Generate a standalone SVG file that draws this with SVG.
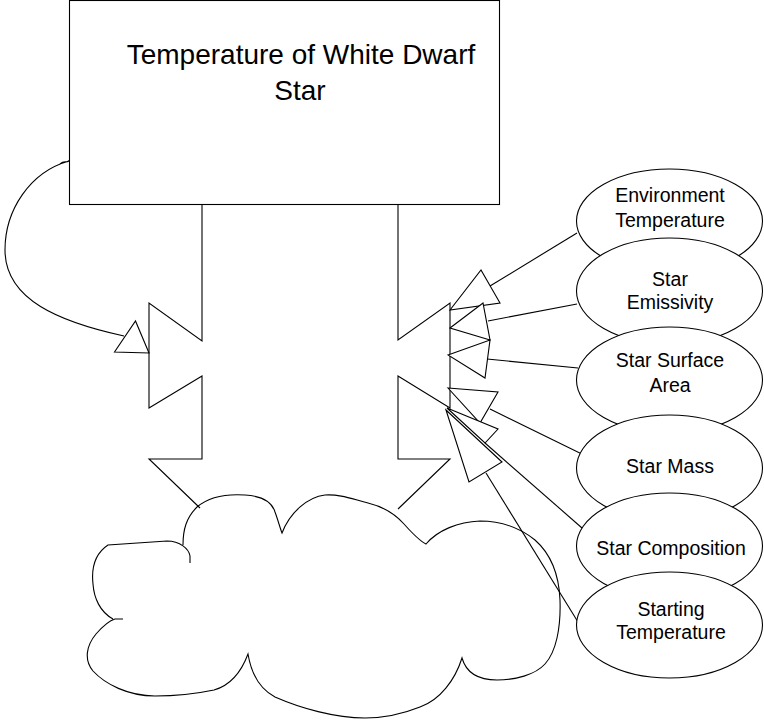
<svg xmlns="http://www.w3.org/2000/svg" width="764" height="720" viewBox="0 0 764 720">
<style>
.ln{fill:none;stroke:#000;stroke-width:1.1;stroke-linejoin:miter}
.ah{fill:#fff;stroke:#000;stroke-width:1.1}
.nd{fill:#fff;stroke:#000;stroke-width:1.1}
.t{font-family:"Liberation Sans",Arial,sans-serif;font-size:19.5px;fill:#000;text-anchor:middle}
.tt{font-family:"Liberation Sans",Arial,sans-serif;font-size:28px;fill:#000;text-anchor:middle}
</style>
<rect width="764" height="720" fill="#fff"/>
<g id="stock">
<rect class="nd" x="69.5" y="0.5" width="430" height="204"/>
<text class="tt" x="301" y="64">Temperature of White Dwarf</text>
<text class="tt" x="300" y="100">Star</text>
</g>
<g id="cloud">
<path class="ln" d="M183,545 C183,530 186,518 197,507 C210,496 230,494 245,495 C262,496 272,502 275,512 C278,520 280,528 282,533 C290,512 308,497 325,495 C340,494 352,499 368,503 C385,507 395,514 404,524 C412,533 420,541 426,544 C438,530 458,522 480,521 C502,521 520,528 535,540 C552,555 559,575 560,600 C561,628 556,652 545,664 C535,675 515,680 497,680 C478,680 466,672 462,658 C455,680 440,700 420,707 C400,715 385,718 365,718 C335,718 300,708 275,697 C258,688 251,672 248,654 C242,670 232,685 214,690 C195,694 175,696 155,696 C128,696 105,684 93,671 C84,660 86,646 96,634 C103,626 108,621 115,619 L123,619 M113,619 C100,612 94,598 93,584 C91,566 96,553 108,545 L167,541 C180,541 189,549 190,556 L190,563"/>
</g>
<g id="connectors">
<path class="ln" d="M202,205 L202,341 L149,303 L149,408 L202,376 L202,459 L149,459 L200,508"/>
<path class="ln" d="M398,205 L398,340 L450,303 L450,408 L398,376 L398,459 L450,459 L398,509"/>
<path class="ln" d="M60,164 C64,160 66,163 69,161 C30,172 5,210 5,250 C5,300 60,322 124,336"/>
<polygon class="ah" points="114.5,352 135.5,321 149,353"/>
<path class="ln" d="M490,286 L577,233"/>
<path class="ln" d="M488,321 L577,304"/>
<path class="ln" d="M487,359 L578,368"/>
<path class="ln" d="M490,409 L590,458 L588,463"/>
<path class="ln" d="M485,443 L582,528"/>
<path class="ln" d="M486,473 L578,622"/>
<polygon class="ah" points="450,310 481,270 500,303"/>
<polygon class="ah" points="450,328 483,303 490,340"/>
<polygon class="ah" points="448,355 490,340 485,378"/>
<polygon class="ah" points="448,388 498,392 480,423"/>
<polygon class="ah" points="447,408 498,429 485,443"/>
<polygon class="ah" points="446,410 502,462 469,482"/>
</g>
<g id="env-temp">
<ellipse class="nd" cx="669.5" cy="221" rx="93" ry="52"/>
<text class="t" x="670" y="202">Environment</text>
<text class="t" x="670" y="227">Temperature</text>
</g>
<g id="emissivity">
<ellipse class="nd" cx="669.5" cy="291" rx="93" ry="53"/>
<text class="t" x="670" y="286">Star</text>
<text class="t" x="670" y="309">Emissivity</text>
</g>
<g id="surface-area">
<ellipse class="nd" cx="669.5" cy="380" rx="93" ry="53"/>
<text class="t" x="670" y="367">Star Surface</text>
<text class="t" x="670" y="392">Area</text>
</g>
<g id="mass">
<ellipse class="nd" cx="669.5" cy="468" rx="93" ry="53"/>
<text class="t" x="670" y="473">Star Mass</text>
</g>
<g id="composition">
<ellipse class="nd" cx="669.5" cy="546" rx="93" ry="53"/>
<text class="t" x="671" y="555">Star Composition</text>
</g>
<g id="start-temp">
<ellipse class="nd" cx="669.5" cy="625" rx="93" ry="53"/>
<text class="t" x="671" y="616">Starting</text>
<text class="t" x="671" y="639">Temperature</text>
</g>
</svg>
